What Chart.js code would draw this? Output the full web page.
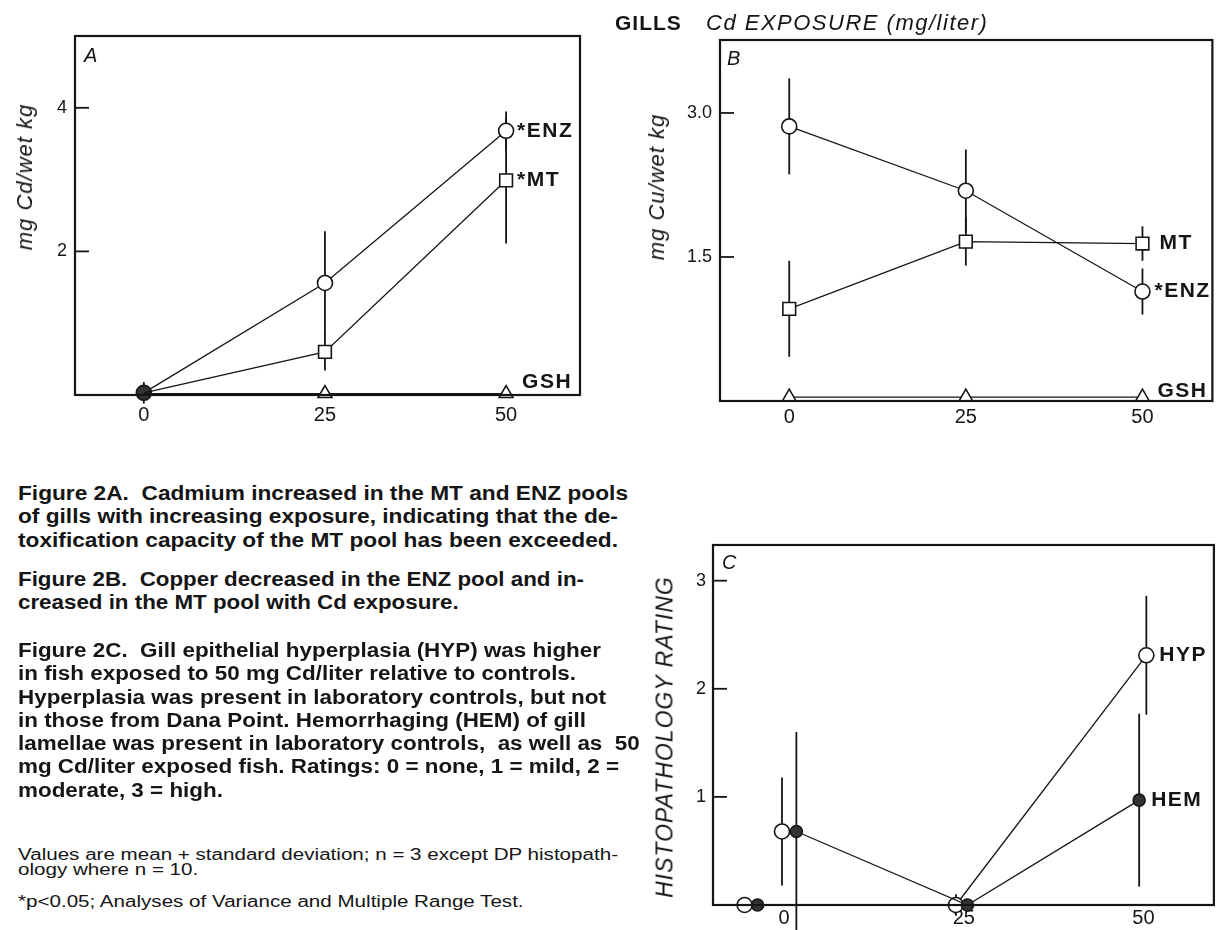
<!DOCTYPE html>
<html>
<head>
<meta charset="utf-8">
<script src="https://cdn.jsdelivr.net/npm/chart.js@4.4.1/dist/chart.umd.min.js"></script>
<style>
  body { margin: 0; width: 1223px; height: 930px; background: #fff; position: relative; overflow: hidden;
         font-family: 'Liberation Sans', Arial, sans-serif; color: #151515; }
  canvas { position: absolute; }
  .t { position: absolute; white-space: pre; transform-origin: 0 0; }
  .ytitle { position: absolute; white-space: nowrap; font-style: italic; font-size: 22px; letter-spacing: 1px;
            transform: translate(-50%, -50%) rotate(-90deg); }
  .letter { position: absolute; font-style: italic; font-size: 20px; line-height: 20px; }
  .cap { font-weight: bold; font-size: 20px; line-height: 23.3px; }
  .note { font-size: 16px; line-height: 15px; }
</style>
</head>
<body>
<canvas id="chartA" width="600" height="440" style="left:0;top:0"></canvas>
<canvas id="chartB" width="583" height="440" style="left:640px;top:0"></canvas>
<canvas id="chartC" width="583" height="430" style="left:640px;top:500px"></canvas>

<div class="t" style="left:615px;top:11px;font-weight:bold;font-size:21px;letter-spacing:1px">GILLS</div>
<div class="t" style="left:706px;top:10px;font-style:italic;font-size:22px;letter-spacing:1.5px">Cd EXPOSURE (mg/liter)</div>

<div class="letter" style="left:84px;top:45px">A</div>
<div class="letter" style="left:727px;top:48px">B</div>
<div class="letter" style="left:722px;top:552px">C</div>

<div class="ytitle" style="left:25px;top:177px">mg Cd/wet kg</div>
<div class="ytitle" style="left:657px;top:187px">mg Cu/wet kg</div>
<div class="ytitle" style="left:665px;top:737px;font-size:23px">HISTOPATHOLOGY RATING</div>

<div id="capA" class="t cap" style="left:18px;top:482px"><span>Figure 2A.  Cadmium increased in the MT and ENZ pools</span><br><span>of gills with increasing exposure, indicating that the de-</span><br><span>toxification capacity of the MT pool has been exceeded.</span></div>
<div id="capB" class="t cap" style="left:18px;top:568px"><span>Figure 2B.  Copper decreased in the ENZ pool and in-</span><br><span>creased in the MT pool with Cd exposure.</span></div>
<div id="capC" class="t cap" style="left:18px;top:639px"><span>Figure 2C.  Gill epithelial hyperplasia (HYP) was higher</span><br><span>in fish exposed to 50 mg Cd/liter relative to controls.</span><br><span>Hyperplasia was present in laboratory controls, but not</span><br><span>in those from Dana Point. Hemorrhaging (HEM) of gill</span><br><span>lamellae was present in laboratory controls,  as well as  50</span><br><span>mg Cd/liter exposed fish. Ratings: 0 = none, 1 = mild, 2 =</span><br><span>moderate, 3 = high.</span></div>
<div id="noteA" class="t note" style="left:18px;top:847px"><span>Values are mean + standard deviation; n = 3 except DP histopath-</span><br><span>ology where n = 10.</span></div>
<div id="noteB" class="t note" style="left:18px;top:894px"><span>*p&lt;0.05; Analyses of Variance and Multiple Range Test.</span></div>

<script>
// Cd exposure levels (mg/liter)
const cdExposure = [0, 25, 50];
const xTicks = [0, 25, 50];

// A: mg Cd / wet kg
const enzCdA = [0.03, 1.56, 3.68];
const enzCdSdA = [0.15, 0.72, 0.27];
const mtCdA = [0.03, 0.60, 2.99];
const mtCdSdA = [0, 0.26, 0.88];
const gshCdA = [0.02, 0.02, 0.02];
const yTicksA = [2, 4];

// B: mg Cu / wet kg
const enzCuB = [2.86, 2.19, 1.14];
const enzCuSdB = [0.50, 0.43, 0.24];
const mtCuB = [0.96, 1.66, 1.64];
const mtCuSdB = [0.50, 0.25, 0.18];
const gshCuB = [0.04, 0.04, 0.04];
const yTicksB = [1.5, 3.0];

// C: histopathology rating (points are offset sideways in the original)
const hypX = [-0.3, 23.9, 50.4];
const hypRating = [0.68, 0, 2.31];
const hypSd = [0.50, 0.10, 0.55];
const hemX = [1.7, 25.5, 49.4];
const hemRating = [0.68, 0, 0.97];
const hemSd = [0.92, 0, 0.80];
const dpHypX = [-5.5];
const dpHemX = [-3.7];
const dpRating = [0];
const yTicksC = [1, 2, 3];

const INK = '#151515';
const DARK = '#333';

function pts(xs, ys) {
    return xs.map((x, i) => ({ x: x, y: ys[i] }));
}

// error bars under the markers, frame + inward ticks + series names on top
const panelPlugin = {
    id: 'panel',
    beforeDatasetsDraw(chart) {
        let ctx = chart.ctx;
        let xs = chart.scales.x, ys = chart.scales.y;
        ctx.save();
        ctx.strokeStyle = INK;
        ctx.lineWidth = 1.8;
        chart.data.datasets.forEach(ds => {
            if (!ds.sd) return;
            ds.data.forEach((p, i) => {
                let sd = ds.sd[i];
                if (!sd) return;
                let px = xs.getPixelForValue(p.x);
                ctx.beginPath();
                ctx.moveTo(px, ys.getPixelForValue(p.y + sd));
                ctx.lineTo(px, ys.getPixelForValue(p.y - sd));
                ctx.stroke();
            });
        });
        ctx.restore();
    },
    afterDatasetsDraw(chart) {
        let ctx = chart.ctx;
        let a = chart.chartArea;
        let ys = chart.scales.y;
        ctx.save();
        ctx.strokeStyle = INK;
        ctx.lineWidth = 2.2;
        ctx.strokeRect(a.left, a.top, a.right - a.left, a.bottom - a.top);
        ctx.lineWidth = 1.8;
        ys.ticks.forEach(t => {
            let py = ys.getPixelForValue(t.value);
            ctx.beginPath();
            ctx.moveTo(a.left, py);
            ctx.lineTo(a.left + 14, py);
            ctx.stroke();
        });
        ctx.fillStyle = INK;
        ctx.font = 'bold 21px "Liberation Sans", Arial, sans-serif';
        ctx.letterSpacing = '1.5px';
        ctx.textBaseline = 'middle';
        chart.data.datasets.forEach((ds, di) => {
            if (!ds.endLabel) return;
            let meta = chart.getDatasetMeta(di);
            let el = meta.data[meta.data.length - 1];
            ctx.fillText(ds.endLabel, el.x + ds.labelDx, el.y + ds.labelDy);
        });
        ctx.restore();
    }
};

function series(data, opts) {
    return Object.assign({
        data: data,
        showLine: true,
        borderColor: INK,
        borderWidth: 1.3,
        pointBorderColor: INK,
        pointBorderWidth: 1.6,
        pointBackgroundColor: '#fff',
        pointStyle: 'circle',
        pointRadius: 7.5,
        clip: false,
        labelDx: 12,
        labelDy: 0
    }, opts);
}

function panelOptions(p) {
    return {
        responsive: false,
        animation: false,
        events: [],
        layout: { padding: { top: p.padTop, right: p.padRight, left: 0, bottom: 0 } },
        plugins: { legend: { display: false }, tooltip: { enabled: false } },
        scales: {
            x: {
                type: 'linear', min: p.xMin, max: p.xMax,
                grid: { display: false, drawTicks: false },
                border: { display: false },
                afterBuildTicks: s => { s.ticks = xTicks.map(v => ({ value: v })) },
                afterFit: s => { s.height = p.xHeight },
                ticks: { color: INK, padding: p.xPad, font: { size: 20, family: 'Liberation Sans' } }
            },
            y: {
                type: 'linear', min: 0, max: p.yMax,
                grid: { display: false, drawTicks: false },
                border: { display: false },
                afterBuildTicks: s => { s.ticks = p.yTicks.map(v => ({ value: v })) },
                afterFit: s => { s.width = p.yWidth },
                ticks: {
                    color: INK, padding: p.yPad, font: { size: 18, family: 'Liberation Sans' },
                    callback: v => Number(v).toFixed(p.decimals)
                }
            }
        }
    };
}

new Chart(document.getElementById('chartA'), {
    type: 'scatter',
    data: {
        datasets: [
            series(pts(cdExposure, gshCdA), { pointStyle: 'triangle', pointRadius: [0, 8, 8], endLabel: 'GSH', labelDx: 16, labelDy: -11 }),
            series(pts(cdExposure, mtCdA), { sd: mtCdSdA, pointStyle: 'rect', pointRadius: [0, 9, 9], endLabel: '*MT', labelDx: 11 }),
            series(pts(cdExposure, enzCdA), { sd: enzCdSdA, pointBackgroundColor: [DARK, '#fff', '#fff'], endLabel: '*ENZ', labelDx: 11 })
        ]
    },
    options: panelOptions({ xMin: -9.5, xMax: 60.2, yMax: 5.0, yTicks: yTicksA, decimals: 0,
                            padTop: 36, padRight: 20, xHeight: 45, yWidth: 75, xPad: 8, yPad: 8 }),
    plugins: [panelPlugin]
});

new Chart(document.getElementById('chartB'), {
    type: 'scatter',
    data: {
        datasets: [
            series(pts(cdExposure, gshCuB), { pointStyle: 'triangle', pointRadius: 8, endLabel: 'GSH', labelDx: 15, labelDy: -6 }),
            series(pts(cdExposure, mtCuB), { sd: mtCuSdB, pointStyle: 'rect', pointRadius: 9, endLabel: 'MT', labelDx: 17 }),
            series(pts(cdExposure, enzCuB), { sd: enzCuSdB, endLabel: '*ENZ', labelDx: 12 })
        ]
    },
    options: panelOptions({ xMin: -9.8, xMax: 59.9, yMax: 3.76, yTicks: yTicksB, decimals: 1,
                            padTop: 40, padRight: 5, xHeight: 39, yWidth: 80, xPad: 4, yPad: 8 }),
    plugins: [panelPlugin]
});

new Chart(document.getElementById('chartC'), {
    type: 'scatter',
    data: {
        datasets: [
            series(pts(dpHypX, dpRating), { showLine: false }),
            series(pts(dpHemX, dpRating), { showLine: false, pointBackgroundColor: DARK, pointRadius: 6 }),
            series(pts(hemX, hemRating), { sd: hemSd, pointBackgroundColor: DARK, pointRadius: 6, endLabel: 'HEM', labelDx: 12 }),
            series(pts(hypX, hypRating), {
                sd: hypSd, endLabel: 'HYP', labelDx: 13,
                segment: { borderColor: c => c.p0DataIndex === 0 ? 'rgba(0,0,0,0)' : INK }
            })
        ]
    },
    options: panelOptions({ xMin: -9.9, xMax: 59.8, yMax: 3.33, yTicks: yTicksC, decimals: 0,
                            padTop: 45, padRight: 5, xHeight: 25, yWidth: 73, xPad: 1, yPad: 7 }),
    plugins: [panelPlugin]
});

// squeeze the caption blocks to the narrow bold face of the original
function fitBlock(id, target) {
    let el = document.getElementById(id);
    let w = el.querySelector('span').getBoundingClientRect().width;
    el.style.transform = 'scaleX(' + (target / w) + ')';
    return target / w;
}
fitBlock('capA', 610);
fitBlock('capB', 566);
fitBlock('capC', 583);
let noteScale = fitBlock('noteA', 600);
document.getElementById('noteB').style.transform = 'scaleX(' + noteScale + ')';
</script>
</body>
</html>
